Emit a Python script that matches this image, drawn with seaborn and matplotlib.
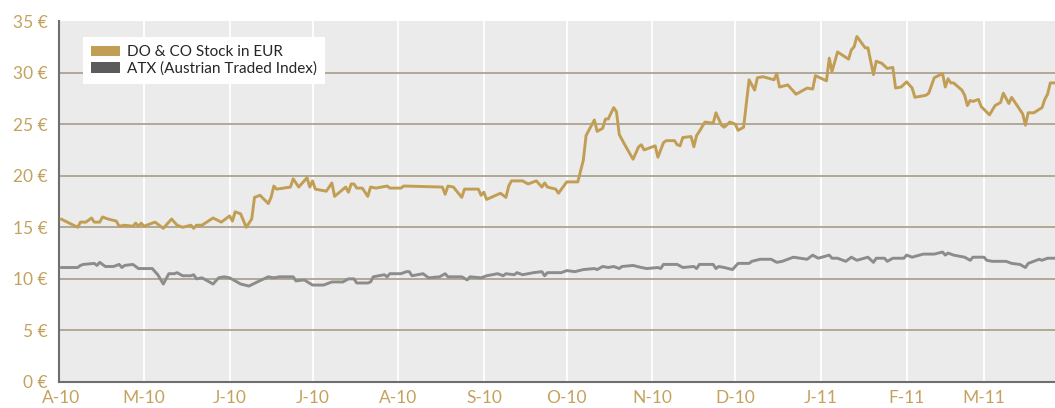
import numpy as np
import pandas as pd
import matplotlib
matplotlib.use("Agg")
import matplotlib.pyplot as plt
import matplotlib.transforms as mtransforms
from matplotlib.patches import Patch
from matplotlib import font_manager
import seaborn as sns

# ---------------- data ----------------
start_date = "2010-04-01"
series_names = ["DO & CO Stock in EUR", "ATX (Austrian Traded Index)"]

doco_days = [0, 6, 7, 9, 11, 12, 14, 15, 17, 20, 21, 23,
             26, 27, 28, 29, 30, 34, 37, 40, 42, 44, 47, 48, 49, 51, 55, 58,
             61, 62, 63, 65, 67, 69, 70, 72, 75, 76, 77, 78, 83, 84, 86, 89,
             90, 91, 92, 96, 98, 99, 103, 104, 105, 106, 107, 109, 111, 112,
             114, 118, 119, 123, 124,
             138, 139, 140, 142, 145, 146, 151, 152, 153, 154, 159, 161, 162,
             163, 167, 169, 172, 174, 175, 176, 179, 180, 183, 187, 189, 190,
             193, 194, 196, 197, 198, 200, 201, 202, 204, 207, 209, 210, 211,
             215, 216, 218, 219, 222, 223, 224, 225, 228, 229, 230, 231,
             233, 236, 237, 239, 240, 242, 244, 245, 247, 249, 251, 252, 254,
             258, 259, 260, 263, 265, 266, 270, 272, 273, 277, 278, 279, 281,
             285, 286, 287, 288, 291, 292, 294, 295, 297, 299, 301, 302, 304,
             306, 308, 309, 313, 314, 316, 319, 320, 321, 322, 323, 326, 327,
             328, 329, 330, 332, 333,
             336, 338, 340, 341, 343, 344, 348, 349, 350, 352, 355, 356, 357,
             358, 360]
doco_values = [15.8, 15.0, 15.5, 15.5, 15.9, 15.5, 15.5, 16.0, 15.8, 15.6, 15.1, 15.2,
               15.1, 15.4, 15.1, 15.4, 15.1, 15.5, 14.9, 15.8, 15.2, 15.0, 15.2, 14.9, 15.2, 15.2, 15.9, 15.5,
               16.1, 15.6, 16.5, 16.3, 15.0, 15.8, 17.9, 18.1, 17.3, 17.9, 19.0, 18.7, 18.9, 19.7, 18.9, 19.8,
               18.9, 19.5, 18.7, 18.5, 19.3, 18.0, 18.9, 18.4, 19.2, 19.2, 18.8, 18.8, 18.0, 18.9,
               18.8, 19.0, 18.8, 18.8, 19.0,
               18.9, 18.2, 19.0, 18.9, 17.9, 18.7, 18.7, 18.1, 18.4, 17.7, 18.3, 17.9, 19.0,
               19.5, 19.5, 19.2, 19.5, 18.9, 19.3, 18.9, 18.7, 18.3, 19.4, 19.4, 21.5, 23.9,
               25.4, 24.3, 24.6, 25.5, 25.5, 26.6, 26.2, 24.0, 23.0, 21.6, 22.8, 23.0, 22.5,
               22.9, 21.8, 23.2, 23.4, 23.4, 23.0, 22.9, 23.7, 23.8, 22.8, 23.9, 24.3,
               25.2, 25.1, 26.1, 24.9, 24.7, 25.2, 25.0, 24.4, 24.7, 29.3, 28.3, 29.5, 29.6,
               29.3, 29.9, 28.6, 28.8, 28.2, 27.9, 28.5, 28.4, 29.7, 29.2, 31.4, 30.1, 32.0,
               31.3, 32.2, 32.5, 33.5, 32.4, 32.4, 29.8, 31.1, 30.9, 30.4, 30.5, 28.5, 28.6,
               29.1, 28.5, 27.6, 27.8, 28.0, 29.5, 29.9, 28.6, 29.4, 29.0, 29.0, 28.3, 27.8,
               26.8, 27.3, 27.2, 27.4, 26.7,
               25.9, 26.8, 27.1, 28.0, 27.0, 27.6, 26.0, 24.9, 26.1, 26.1, 26.6, 27.4, 27.9,
               29.0, 29.0]

atx_days = [0, 6, 7, 8, 12, 13, 14, 16, 19, 21, 22, 23, 26, 28, 33, 35, 37, 39, 41, 42,
            44, 47, 48, 49, 51, 55, 57, 59, 61, 65, 68, 71, 75, 77, 79, 84, 85, 88, 91, 95,
            98, 102, 104, 106, 107, 108, 111, 112, 113, 117, 118, 119, 123, 125, 126, 127, 131, 133, 137, 139,
            140, 145, 147, 148, 152, 154, 158, 160, 161, 164, 165, 167, 171, 174, 175, 176, 181, 183, 186, 189,
            193, 194, 196, 198, 200, 202, 203, 207, 210, 212, 216, 217, 218, 223, 225, 229, 230, 231, 236, 237,
            238, 240, 243, 245, 249, 250, 253, 257, 259, 261, 265, 270, 272, 274, 278, 279, 281, 284, 286, 288,
            292, 294, 295, 298, 299, 301, 305, 306, 308, 312, 316, 319, 320, 321, 323, 327, 329, 330, 334, 335,
            337, 342, 344, 347, 349, 350, 354, 355, 357, 360]
atx_values = [11.1, 11.1, 11.3, 11.4, 11.5, 11.3, 11.6, 11.2, 11.2, 11.4, 11.1, 11.3, 11.4, 11.0, 11.0, 10.4, 9.5, 10.5, 10.5, 10.6,
              10.3, 10.3, 10.4, 10.0, 10.1, 9.5, 10.1, 10.2, 10.1, 9.5, 9.3, 9.7, 10.2, 10.1, 10.2, 10.2, 9.8, 9.9, 9.4, 9.4,
              9.7, 9.7, 10.0, 10.0, 9.6, 9.6, 9.6, 9.7, 10.2, 10.4, 10.2, 10.5, 10.5, 10.7, 10.7, 10.3, 10.5, 10.1, 10.2, 10.5,
              10.2, 10.2, 9.9, 10.2, 10.1, 10.3, 10.5, 10.3, 10.5, 10.4, 10.6, 10.4, 10.6, 10.7, 10.3, 10.6, 10.6, 10.8, 10.7, 10.9,
              11.0, 10.9, 11.2, 11.1, 11.2, 11.0, 11.2, 11.3, 11.1, 11.0, 11.1, 11.0, 11.4, 11.4, 11.1, 11.2, 11.0, 11.4, 11.4, 11.0,
              11.2, 11.1, 10.9, 11.5, 11.5, 11.7, 11.9, 11.9, 11.6, 11.7, 12.1, 11.9, 12.3, 12.0, 12.3, 12.0, 12.0, 11.7, 12.1, 11.8,
              12.1, 11.6, 12.0, 12.0, 11.7, 12.0, 12.0, 12.3, 12.1, 12.4, 12.4, 12.6, 12.3, 12.5, 12.3, 12.1, 11.8, 12.1, 12.1, 11.8,
              11.7, 11.7, 11.5, 11.4, 11.1, 11.5, 11.9, 11.8, 12.0, 12.0]

month_labels = ["A-10", "M-10", "J-10", "J-10", "A-10", "S-10",
                "O-10", "N-10", "D-10", "J-11", "F-11", "M-11"]
y_ticks = [0, 5, 10, 15, 20, 25, 30, 35]

# ---------------- build frame ----------------
base = pd.Timestamp(start_date)
df = pd.concat([
    pd.DataFrame({"date": base + pd.to_timedelta(doco_days, unit="D"),
                  "value": doco_values, "series": series_names[0]}),
    pd.DataFrame({"date": base + pd.to_timedelta(atx_days, unit="D"),
                  "value": atx_values, "series": series_names[1]}),
], ignore_index=True)

GOLD = "#C29E55"
GRAY_LINE = "#8C8C8C"
LEG_GRAY = "#5B5B5D"
TICK_COL = "#C4A25E"
HGRID = "#B1A994"

sns.set_theme(style="white")
plt.rcParams["font.family"] = ["Lato", "DejaVu Sans"]

available = {f.name for f in font_manager.fontManager.ttflist}
if "Liberation Sans Narrow" in available:
    legend_font = {"family": ["Liberation Sans Narrow", "DejaVu Sans"], "size": 13.5}
else:
    legend_font = {"family": ["Lato", "DejaVu Sans"], "size": 11}

fig = plt.figure(figsize=(10.55, 4.08), dpi=100)
ax = fig.add_axes([59 / 1055, 1 - 382 / 408, 1 - 59 / 1055, (382 - 21) / 408])
ax.set_facecolor("#EAEBEA")

sns.lineplot(data=df, x="date", y="value", hue="series",
             palette={series_names[0]: GOLD, series_names[1]: GRAY_LINE},
             estimator=None, linewidth=2.1, ax=ax, legend=False, zorder=3)

# axes limits
ax.set_xlim(base - pd.Timedelta(hours=18), base + pd.Timedelta(days=359.7))
ax.set_ylim(0, 35)

# grid lines
month_ticks = pd.date_range(start_date, periods=len(month_labels), freq="MS")
for t in month_ticks[1:]:
    ax.axvline(t, color="white", linewidth=1.3, zorder=1)
for yv in y_ticks[1:-1]:
    ax.axhline(yv, color=HGRID, linewidth=1.4, zorder=2)

ax.set_xticks(month_ticks)
ax.set_xticklabels(month_labels)
offset = mtransforms.ScaledTranslation(4 / 100, 0, fig.dpi_scale_trans)
for lbl in ax.get_xticklabels():
    lbl.set_transform(lbl.get_transform() + offset)
ax.set_yticks(y_ticks)
ax.set_yticklabels([f"{v} €" for v in y_ticks])
ax.tick_params(axis="both", length=0, labelsize=12.5, colors=TICK_COL)
ax.tick_params(axis="y", pad=8)
ax.tick_params(axis="x", pad=6)
ax.set_xlabel("")
ax.set_ylabel("")

for side in ["top", "right"]:
    ax.spines[side].set_visible(False)
ax.spines["left"].set_color("#6E6E6E")
ax.spines["left"].set_linewidth(1.5)
ax.spines["bottom"].set_color("#6E6E6E")
ax.spines["bottom"].set_linewidth(1.5)

handles = [Patch(facecolor=GOLD, edgecolor="none", label=series_names[0]),
           Patch(facecolor=LEG_GRAY, edgecolor="none", label=series_names[1])]
leg = ax.legend(handles=handles, loc="upper left",
                bbox_to_anchor=(24 / 996, (382 - 37) / 361),
                frameon=True, fancybox=False, framealpha=1.0,
                edgecolor="none", facecolor="white", prop=legend_font,
                handlelength=1.9, handleheight=0.7, handletextpad=0.4,
                labelspacing=0.15, borderpad=0.55, borderaxespad=0)
leg.set_zorder(5)

fig.savefig("out.png", dpi=100, facecolor="white")
